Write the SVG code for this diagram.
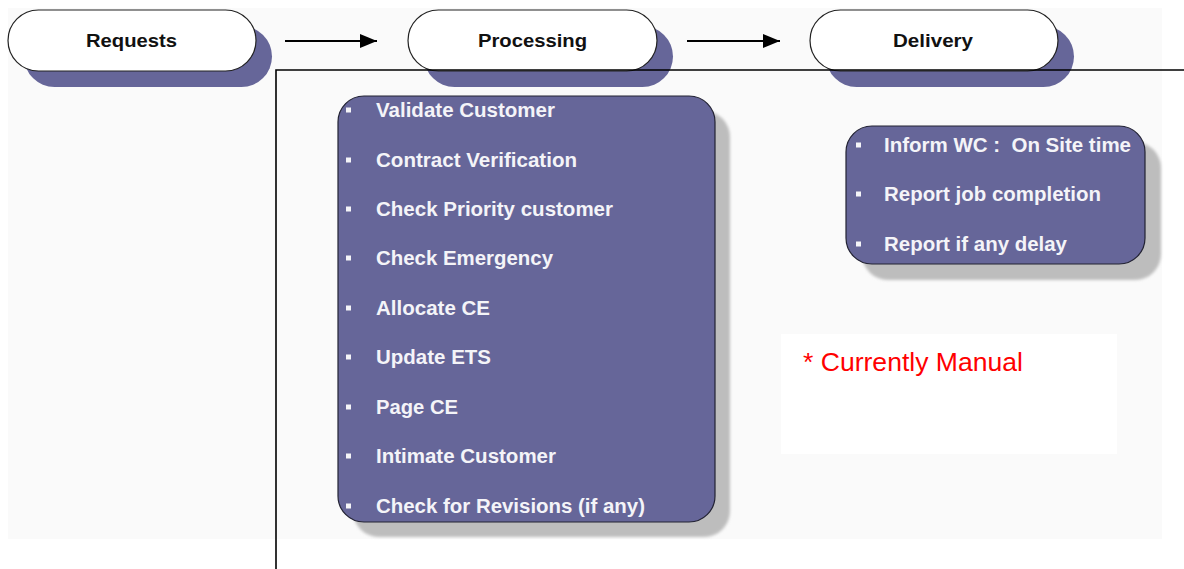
<svg xmlns="http://www.w3.org/2000/svg" width="1184" height="569" viewBox="0 0 1184 569">
<defs>
<style>
.pill{fill:#ffffff;stroke:#222222;stroke-width:1.2}
.pshadow{fill:#666699}
.title{font-family:"Liberation Sans",Arial,sans-serif;font-weight:bold;font-size:18.5px;fill:#111111;text-anchor:start}
.box{fill:#666699;stroke:#222233;stroke-width:1.2}
.bshadow{fill:#bdbdbd}
.item{font-family:"Liberation Sans",Arial,sans-serif;font-weight:bold;font-size:19.5px;fill:#f4f4f8}
.bul{fill:#f4f4f8}
.note{font-family:"Liberation Sans",Arial,sans-serif;font-size:26px;fill:#ff0000}
.conn{stroke:#000000;stroke-width:2;fill:none}
.frame{stroke:#000000;stroke-width:1.6;fill:none}
</style>
<marker id="arrow" markerWidth="17" markerHeight="14" refX="17" refY="7" orient="auto" markerUnits="userSpaceOnUse">
<path d="M0,0 L17,7 L0,14 Z" fill="#000000"/>
</marker>
<filter id="soft" x="-5%" y="-5%" width="110%" height="110%">
<feGaussianBlur stdDeviation="1.5"/>
</filter>
</defs>

<rect x="0" y="0" width="1184" height="569" fill="#ffffff"/>
<rect x="8" y="8" width="1154" height="531" fill="#fafafa"/>
<rect x="781" y="334" width="336" height="120" fill="#ffffff"/>

<g id="requests">
<rect class="pshadow" x="24" y="26" width="248" height="61" rx="30.5"/>
<rect class="pill" x="8" y="10" width="248" height="61" rx="30.5"/>
<text class="title" x="86" y="47" textLength="91" lengthAdjust="spacingAndGlyphs">Requests</text>
</g>

<g id="processing">
<rect class="pshadow" x="424" y="26" width="249" height="61" rx="30.5"/>
<rect class="pill" x="408" y="10" width="249" height="61" rx="30.5"/>
<text class="title" x="478" y="47" textLength="109" lengthAdjust="spacingAndGlyphs">Processing</text>
</g>

<g id="delivery">
<rect class="pshadow" x="826" y="26" width="248" height="61" rx="30.5"/>
<rect class="pill" x="810" y="10" width="248" height="61" rx="30.5"/>
<text class="title" x="893" y="47" textLength="80" lengthAdjust="spacingAndGlyphs">Delivery</text>
</g>

<g id="processing-steps">
<rect class="bshadow" x="353" y="111" width="377" height="426" rx="26" filter="url(#soft)"/>
<rect class="box" x="338" y="96" width="377" height="426" rx="26"/>
<rect class="bul" x="346" y="107.5" width="5" height="5"/>
<text class="item" x="376" y="117" textLength="179" lengthAdjust="spacingAndGlyphs">Validate Customer</text>
<rect class="bul" x="346" y="157.5" width="5" height="5"/>
<text class="item" x="376" y="167" textLength="201" lengthAdjust="spacingAndGlyphs">Contract Verification</text>
<rect class="bul" x="346" y="206.5" width="5" height="5"/>
<text class="item" x="376" y="216" textLength="237" lengthAdjust="spacingAndGlyphs">Check Priority customer</text>
<rect class="bul" x="346" y="255.5" width="5" height="5"/>
<text class="item" x="376" y="265" textLength="177" lengthAdjust="spacingAndGlyphs">Check Emergency</text>
<rect class="bul" x="346" y="305.5" width="5" height="5"/>
<text class="item" x="376" y="315" textLength="114" lengthAdjust="spacingAndGlyphs">Allocate CE</text>
<rect class="bul" x="346" y="354.5" width="5" height="5"/>
<text class="item" x="376" y="364" textLength="115" lengthAdjust="spacingAndGlyphs">Update ETS</text>
<rect class="bul" x="346" y="404.5" width="5" height="5"/>
<text class="item" x="376" y="414" textLength="82" lengthAdjust="spacingAndGlyphs">Page CE</text>
<rect class="bul" x="346" y="453.5" width="5" height="5"/>
<text class="item" x="376" y="463" textLength="180" lengthAdjust="spacingAndGlyphs">Intimate Customer</text>
<rect class="bul" x="346" y="503.5" width="5" height="5"/>
<text class="item" x="376" y="513" textLength="269" lengthAdjust="spacingAndGlyphs">Check for Revisions (if any)</text>
</g>

<g id="delivery-steps">
<rect class="bshadow" x="862" y="142" width="299" height="138" rx="26" filter="url(#soft)"/>
<rect class="box" x="846" y="126" width="299" height="138" rx="26"/>
<rect class="bul" x="856" y="142.5" width="5" height="5"/>
<text class="item" x="884" y="152" textLength="247" lengthAdjust="spacingAndGlyphs" xml:space="preserve">Inform WC :  On Site time</text>
<rect class="bul" x="856" y="191.5" width="5" height="5"/>
<text class="item" x="884" y="201" textLength="217" lengthAdjust="spacingAndGlyphs">Report job completion</text>
<rect class="bul" x="856" y="241.5" width="5" height="5"/>
<text class="item" x="884" y="251" textLength="183" lengthAdjust="spacingAndGlyphs">Report if any delay</text>
</g>

<g id="note">
<text class="note" x="803" y="371" textLength="220" lengthAdjust="spacingAndGlyphs">* Currently Manual</text>
</g>

<g id="connectors">
<line class="conn" x1="285" y1="41" x2="377" y2="41" marker-end="url(#arrow)"/>
<line class="conn" x1="687" y1="41" x2="780" y2="41" marker-end="url(#arrow)"/>
</g>

<g id="frame">
<polyline class="frame" points="1184,70 276,70 276,569"/>
</g>
</svg>
